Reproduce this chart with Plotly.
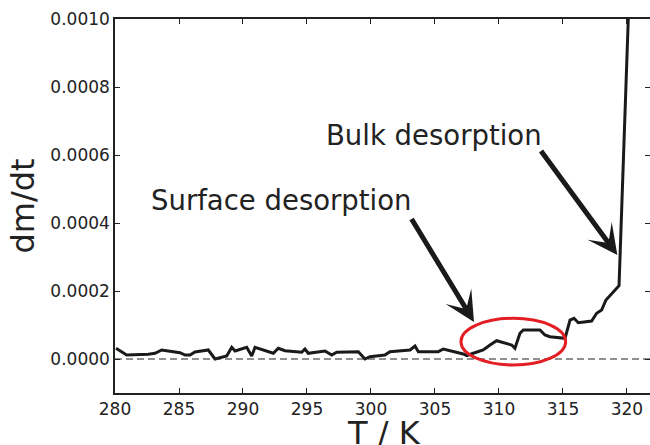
import plotly.graph_objects as go

# Temperature (K) and dm/dt values
temperature = [280.08, 280.91, 282.60, 283.13, 283.65, 285.08, 285.47, 285.86, 286.25, 287.29,
               287.81, 288.73, 289.12, 289.38, 290.29, 290.68, 290.94, 292.37, 292.76, 293.28,
               294.59, 294.84, 295.10, 296.02, 296.41, 296.93, 297.32, 299.01, 299.53, 299.92,
               301.09, 301.48, 303.05, 303.44, 303.70, 305.26, 305.65, 307.21, 307.48, 307.99,
               308.77, 309.30, 309.82, 310.99, 311.25, 311.64, 311.90, 313.20, 313.59, 313.98,
               315.16, 315.55, 315.86, 316.20, 317.24, 317.63, 318.02, 318.36, 318.93, 319.38,
               320.10, 320.16]
dmdt = [3.15e-5, 1.18e-5, 1.38e-5, 1.68e-5, 2.65e-5, 1.85e-5, 1.18e-5, 1.18e-5, 2.06e-5, 2.65e-5,
        0.0, 0.88e-5, 3.44e-5, 2.35e-5, 3.44e-5, 0.88e-5, 3.44e-5, 1.68e-5, 3.15e-5, 2.44e-5,
        1.97e-5, 2.94e-5, 1.68e-5, 2.06e-5, 2.35e-5, 1.18e-5, 1.97e-5, 2.15e-5, 0.0, 0.68e-5,
        1.18e-5, 2.15e-5, 2.65e-5, 3.82e-5, 2.15e-5, 2.15e-5, 2.94e-5, 1.47e-5, 0.97e-5, 1.68e-5,
        2.65e-5, 4.12e-5, 5.38e-5, 4.12e-5, 3.15e-5, 7.56e-5, 8.53e-5, 8.53e-5, 7.06e-5, 6.56e-5,
        6.09e-5, 11.47e-5, 11.97e-5, 10.68e-5, 11.18e-5, 13.44e-5, 14.41e-5, 17.35e-5, 19.79e-5, 21.56e-5,
        99.7e-5, 105.6e-5]

x_ticks = [280, 285, 290, 295, 300, 305, 310, 315, 320]
y_ticks = [0.0, 0.0002, 0.0004, 0.0006, 0.0008, 0.0010]

FONT = "DejaVu Sans"
INK = "#222222"

fig = go.Figure()
fig.add_trace(go.Scatter(x=temperature, y=dmdt, mode="lines",
                         line=dict(color="#1a1a1a", width=3), showlegend=False,
                         hoverinfo="skip"))

fig.add_hline(y=0, line=dict(color="#222222", width=1.2, dash="7px,4px"))

# highlighted region
fig.add_shape(type="circle", xref="x", yref="y",
              x0=307.03, x1=315.21, y0=-1.76e-5, y1=1.197e-4,
              line=dict(color="#e31e24", width=3))

# labels
fig.add_annotation(x=282.65, y=4.68e-4, xref="x", yref="y", text="Surface desorption",
                   showarrow=False, xanchor="left", yanchor="middle",
                   font=dict(family=FONT, size=27.5, color=INK))
fig.add_annotation(x=296.3, y=6.6e-4, xref="x", yref="y", text="Bulk desorption",
                   showarrow=False, xanchor="left", yanchor="middle",
                   font=dict(family=FONT, size=27.5, color=INK))

# arrows (tip at x,y ; tail at ax,ay)
fig.add_annotation(x=308.05, y=1.09e-4, ax=303.1, ay=4.16e-4, xref="x", yref="y",
                   axref="x", ayref="y", text="", showarrow=True, arrowhead=3,
                   arrowsize=1, arrowwidth=5, arrowcolor="#1a1a1a")
fig.add_annotation(x=319.25, y=3.06e-4, ax=313.2, ay=6.16e-4, xref="x", yref="y",
                   axref="x", ayref="y", text="", showarrow=True, arrowhead=3,
                   arrowsize=1, arrowwidth=5, arrowcolor="#1a1a1a")

# x-axis title placed below the tick labels
fig.add_annotation(x=0.503, y=-0.108, xref="paper", yref="paper", text="T / K",
                   showarrow=False, xanchor="center", yanchor="middle",
                   font=dict(family=FONT, size=32, color=INK))

axis_common = dict(showline=True, linecolor="#222222", linewidth=1.5, mirror="ticks",
                   ticks="inside", ticklen=5, tickwidth=1.2, tickcolor="#222222",
                   showgrid=False, zeroline=False, automargin=False,
                   tickfont=dict(family=FONT, size=17, color=INK))

fig.update_xaxes(range=[280, 321.8], tickvals=x_ticks, ticktext=[str(v) for v in x_ticks],
                 **axis_common)
fig.update_yaxes(range=[-0.0001, 0.0010], tickvals=y_ticks, tickformat=".4f",
                 title=dict(text="dm/dt", font=dict(family=FONT, size=32, color=INK), standoff=6),
                 **axis_common)

fig.update_layout(width=650, height=445, margin=dict(l=115, r=0, t=19, b=52),
                  paper_bgcolor="white", plot_bgcolor="white")

fig.write_html("out.html")
